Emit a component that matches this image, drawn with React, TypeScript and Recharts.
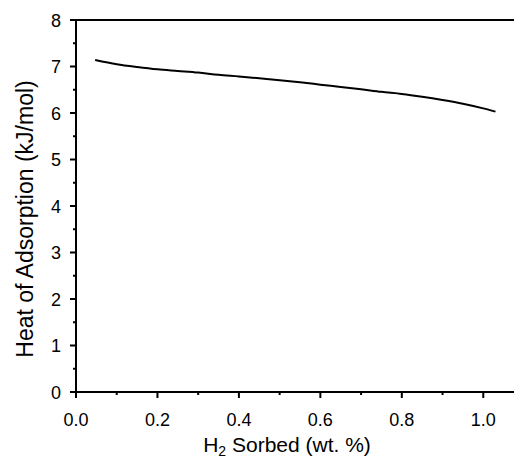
import React from "react";
import { LineChart, Line, XAxis, YAxis, ReferenceLine, Label } from "recharts";

const sorbed = [0.047, 0.1, 0.15, 0.2, 0.25, 0.3, 0.35, 0.4, 0.45, 0.5, 0.55, 0.6, 0.65, 0.7, 0.75, 0.8, 0.85, 0.9, 0.95, 1.0, 1.03];
const heat = [7.14, 7.05, 6.99, 6.94, 6.905, 6.87, 6.82, 6.785, 6.745, 6.705, 6.66, 6.61, 6.56, 6.51, 6.455, 6.41, 6.35, 6.28, 6.2, 6.1, 6.03];

const xTicks = [0, 0.1, 0.2, 0.3, 0.4, 0.5, 0.6, 0.7, 0.8, 0.9, 1.0];
const xMajor = [0, 0.2, 0.4, 0.6, 0.8, 1.0];
const yTicks = [0, 0.5, 1, 1.5, 2, 2.5, 3, 3.5, 4, 4.5, 5, 5.5, 6, 6.5, 7, 7.5, 8];
const yMajor = [0, 1, 2, 3, 4, 5, 6, 7, 8];

const data = sorbed.map((x, i) => ({ x, heat: heat[i] }));

const FONT = "'Liberation Sans', Arial, Helvetica, sans-serif";

const XTick = (props: any) => {
  const { x, y, payload } = props;
  const v = payload.value;
  const major = xMajor.some((m) => Math.abs(m - v) < 1e-9);
  return (
    <g>
      <line x1={x} x2={x} y1={y} y2={y + (major ? 6 : 3)} stroke="#000" strokeWidth={2} />
      {major && (
        <text x={x} y={y + 34} textAnchor="middle" fontSize={18} fontFamily={FONT} fill="#000">
          {v.toFixed(1)}
        </text>
      )}
    </g>
  );
};

const YTick = (props: any) => {
  const { x, y, payload } = props;
  const v = payload.value;
  const major = yMajor.some((m) => Math.abs(m - v) < 1e-9);
  return (
    <g>
      <line x1={x} x2={x - (major ? 6 : 3)} y1={y} y2={y} stroke="#000" strokeWidth={2} />
      {major && (
        <text x={x - 15} y={y + 6.5} textAnchor="end" fontSize={18} fontFamily={FONT} fill="#000">
          {String(v)}
        </text>
      )}
    </g>
  );
};

export default function App() {
  return (
    <div style={{ position: "absolute", left: 0, top: 0, width: 514, height: 460, overflow: "hidden", background: "#fff" }}>
      <LineChart width={540} height={460} data={data} margin={{ top: 20, right: 16, bottom: 0, left: 0 }}>
        <XAxis
          type="number"
          dataKey="x"
          domain={[0, 1.1]}
          ticks={xTicks}
          tick={<XTick />}
          tickLine={false}
          tickSize={0}
          tickMargin={0}
          height={68}
          interval={0}
          axisLine={{ stroke: "#000", strokeWidth: 2 }}
        >
          <Label
            content={() => (
              <text x={287} y={452} textAnchor="middle" fontSize={21} fontFamily={FONT} fill="#000">
                H<tspan fontSize={14} dy={4}>2</tspan>
                <tspan dy={-4}> Sorbed (wt. %)</tspan>
              </text>
            )}
          />
        </XAxis>
        <YAxis
          type="number"
          domain={[0, 8]}
          ticks={yTicks}
          tick={<YTick />}
          tickLine={false}
          tickSize={0}
          tickMargin={0}
          width={76}
          interval={0}
          axisLine={{ stroke: "#000", strokeWidth: 2 }}
        >
          <Label
            content={() => (
              <text
                x={0}
                y={0}
                transform="translate(33, 219) rotate(-90)"
                textAnchor="middle"
                fontSize={23}
                fontFamily={FONT}
                fill="#000"
              >
                Heat of Adsorption (kJ/mol)
              </text>
            )}
          />
        </YAxis>
        <ReferenceLine y={8} stroke="#000" strokeWidth={2} />
        <Line
          type="monotone"
          dataKey="heat"
          stroke="#000"
          strokeWidth={2}
          dot={false}
          isAnimationActive={false}
        />
      </LineChart>
    </div>
  );
}
